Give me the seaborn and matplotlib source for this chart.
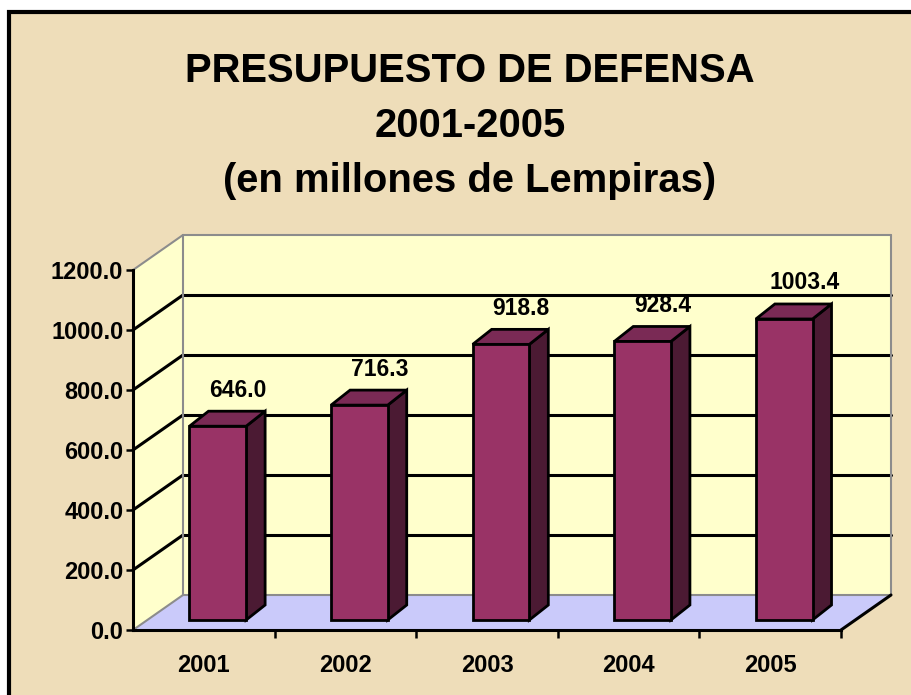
import numpy as np
import matplotlib
matplotlib.use('Agg')
import matplotlib.pyplot as plt
import matplotlib.transforms as mtransforms
from matplotlib.patches import Polygon, Rectangle
import seaborn as sns

# Data
years = ['2001', '2002', '2003', '2004', '2005']
budget = [646.0, 716.3, 918.8, 928.4, 1003.4]
title_lines = ['PRESUPUESTO DE DEFENSA', '2001-2005', '(en millones de Lempiras)']
yticks = [0, 200, 400, 600, 800, 1000, 1200]

sns.set_theme(style='white')
plt.rcParams['font.family'] = ['Liberation Sans', 'DejaVu Sans']
plt.rcParams['font.weight'] = 'bold'

W, H = 911, 695
fig = plt.figure(figsize=(W / 100, H / 100), dpi=100)
fig.patch.set_facecolor('white')

# parchment slide background with frame
fig.patches.append(Rectangle((9 / W, -0.05), 1.05, (H - 12) / H + 0.05, transform=fig.transFigure,
                             facecolor='#EEDDB9', edgecolor='black', linewidth=3, zorder=-5))

for i, line in enumerate(title_lines):
    fig.text(470 / W, 1 - (71 + 55 * i) / H, line, ha='center', va='center',
             fontsize=28.8, fontweight='bold', color='black', zorder=1)

ax = fig.add_axes([133 / W, 65 / H, 708 / W, 360 / H])
ax.set_zorder(2)
ax.set_facecolor('none')
ax.set_xlim(-0.5, 4.5)
ax.set_ylim(0, 1200)

# depth offsets in pixels
DX, DY = 50, 35      # back wall
BX, BY = 14, 10      # bar front plane
SX, SY = 19, 15      # bar depth
ident = mtransforms.IdentityTransform()


def px(x, y, dx=0, dy=0):
    p = ax.transData.transform((x, y))
    return (p[0] + dx, p[1] + dy)


def poly(pts, fc, ec='none', lw=0, z=1):
    ax.add_patch(Polygon(pts, closed=True, facecolor=fc, edgecolor=ec, linewidth=lw,
                         transform=ident, clip_on=False, zorder=z))


def seg(p, q, color, lw, z=2):
    ax.add_line(plt.Line2D([p[0], q[0]], [p[1], q[1]], color=color, linewidth=lw,
                           transform=ident, clip_on=False, zorder=z))


x0, x1 = ax.get_xlim()
ymax = yticks[-1]
wall = '#FFFFCC'
floor = '#CACAFA'
grey = '#8C8C8C'

# back wall, side wall, floor
poly([px(x0, 0, DX, DY), px(x1, 0, DX, DY), px(x1, ymax, DX, DY), px(x0, ymax, DX, DY)], wall)
poly([px(x0, 0), px(x0, 0, DX, DY), px(x0, ymax, DX, DY), px(x0, ymax)], wall)
poly([px(x0, 0), px(x1, 0), px(x1, 0, DX, DY), px(x0, 0, DX, DY)], floor)

# gridlines on walls
for v in yticks[1:]:
    c = grey if v == ymax else 'black'
    lw = 1.5 if v == ymax else 2.2
    seg(px(x0, v), px(x0, v, DX, DY), c, lw)
    seg(px(x0, v, DX, DY), px(x1, v, DX, DY), c, lw)
seg(px(x0, 0, DX, DY), px(x0, ymax, DX, DY), grey, 1.5)
seg(px(x1, 0, DX, DY), px(x1, ymax, DX, DY), grey, 1.5)
seg(px(x0, 0, DX, DY), px(x1, 0, DX, DY), grey, 1.5)
seg(px(x0, 0), px(x0, 0, DX, DY), grey, 1.5)
seg(px(x1, 0), px(x1, 0, DX, DY), 'black', 2.2)

# bars
sns.barplot(x=years, y=budget, color='#993366', saturation=1, width=0.4,
            edgecolor='black', linewidth=2, ax=ax, zorder=5)
bar_t = mtransforms.offset_copy(ax.transData, fig=fig, x=BX, y=BY, units='dots')
for patch in list(ax.patches):
    if not isinstance(patch, Rectangle) or patch.get_width() >= 1:
        continue
    patch.set_transform(bar_t)
    patch.set_clip_on(False)
    bx, bw, bh = patch.get_x(), patch.get_width(), patch.get_height()
    br = px(bx + bw, 0, BX, BY)
    tr = px(bx + bw, bh, BX, BY)
    tl = px(bx, bh, BX, BY)
    poly([br, tr, (tr[0] + SX, tr[1] + SY), (br[0] + SX, br[1] + SY)], '#4B1A33', 'black', 2, 4)
    poly([tl, tr, (tr[0] + SX, tr[1] + SY), (tl[0] + SX, tl[1] + SY)], '#7A2A55', 'black', 2, 4)
    lx, ly = px(bx + bw / 2, bh, BX + 20, BY + 36)
    ax.text(lx, ly, f'{bh:.1f}', transform=ident, ha='center', va='center',
            fontsize=16.5, fontweight='bold', color='black', zorder=6)

# front axes
sns.despine(ax=ax, top=True, right=True)
for s in ['left', 'bottom']:
    ax.spines[s].set_color('black')
    ax.spines[s].set_linewidth(2.2)
    ax.spines[s].set_zorder(3)
ax.set_yticks(yticks)
ax.set_yticklabels([f'{v:.1f}' for v in yticks])
ax.set_xticks(range(len(years)))
ax.set_xticklabels(years)
ax.set_xticks(np.arange(len(years)) + 0.5, minor=True)
ax.tick_params(axis='y', which='major', direction='out', length=5, width=1.8,
               color='black', left=True, pad=2, labelsize=17)
ax.tick_params(axis='x', which='major', length=0, pad=17, labelsize=17)
ax.tick_params(axis='x', which='minor', direction='out', length=6, width=1.8,
               color='black', bottom=True)
for lab in ax.get_xticklabels() + ax.get_yticklabels():
    lab.set_fontweight('bold')
    lab.set_color('black')
ax.set_xlabel('')
ax.set_ylabel('')

fig.savefig('out.png', dpi=100)
